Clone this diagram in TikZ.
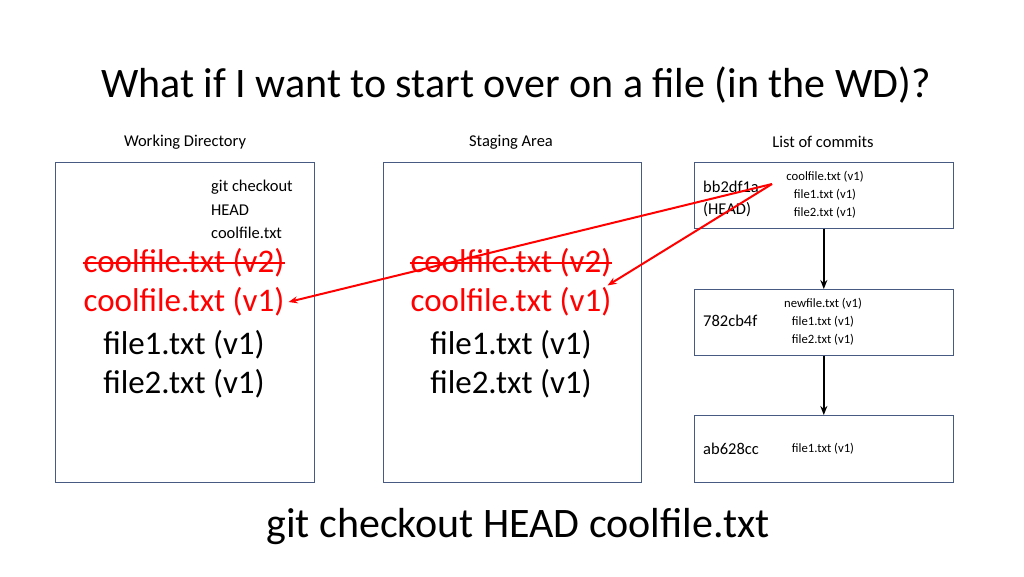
\documentclass[tikz,border=0pt]{standalone}
\usepackage{fontspec}
\setmainfont{Carlito}
\usetikzlibrary{arrows.meta}
\definecolor{gred}{RGB}{255,0,0}
\definecolor{bx}{RGB}{70,90,130}
\begin{document}
\begin{tikzpicture}[x=1pt,y=-1pt,
  box/.style={draw=bx, line width=0.6pt},
  big/.style={font=\fontsize{33}{35}\selectfont, inner sep=0pt},
  lbl/.style={font=\fontsize{16.5}{18}\selectfont, inner sep=0pt},
  sm/.style={font=\fontsize{12.7}{14}\selectfont, inner sep=0pt},
  ra/.style={draw=gred, line width=2pt, -{Stealth[length=9pt,width=7pt]}},
  ba/.style={draw=black, line width=2pt, -{Stealth[length=9pt,width=7pt]}}]
\useasboundingbox (0,0) rectangle (1024,576);
\node[font=\fontsize{42}{45}\selectfont] (title) at (516,85) {What if I want to start over on a file (in the WD)?};
\node[lbl] (lwd) at (185,142) {Working Directory};
\node[lbl] (lsa) at (511,142) {Staging Area};
\node[lbl] (lc) at (823,142) {List of commits};
\draw[box] (55,162) rectangle (314,482);
\draw[box] (383,162) rectangle (641,482);
\node[box, minimum width=259pt, minimum height=66pt, anchor=north west] (c1) at (694,162) {};
\node[box, minimum width=259pt, minimum height=66pt, anchor=north west] (c2) at (694,289) {};
\node[box, minimum width=259pt, minimum height=67pt, anchor=north west] (c3) at (694,415) {};
\node[lbl, anchor=west] (g1) at (211,187) {git checkout};
\node[lbl, anchor=west] (g2) at (211,210) {HEAD};
\node[lbl, anchor=west] (g3) at (211,233) {coolfile.txt};
\node[big, text=gred] (w2) at (184,263) {coolfile.txt (v2)};
\draw[gred, line width=1.5pt] (w2.west) -- (w2.east);
\node[big, text=gred] (w1) at (184,302) {coolfile.txt (v1)};
\node[big] (wf1) at (184,345) {file1.txt (v1)};
\node[big] (wf2) at (184,384) {file2.txt (v1)};
\node[big, text=gred] (s2) at (511,263) {coolfile.txt (v2)};
\draw[gred, line width=1.5pt] (s2.west) -- (s2.east);
\node[big, text=gred] (s1) at (511,302) {coolfile.txt (v1)};
\node[big] (sf1) at (511,345) {file1.txt (v1)};
\node[big] (sf2) at (511,384) {file2.txt (v1)};
\node[lbl, anchor=west] (h1) at (703,187) {bb2df1a};
\node[lbl, anchor=west] (h2) at (703,210) {(HEAD)};
\node[sm] (a1) at (825,177) {coolfile.txt (v1)};
\node[sm] (a2) at (825,195) {file1.txt (v1)};
\node[sm] (a3) at (825,213) {file2.txt (v1)};
\node[lbl, anchor=west] (h3) at (703,321) {782cb4f};
\node[sm] (b1) at (823,304) {newfile.txt (v1)};
\node[sm] (b2) at (823,322) {file1.txt (v1)};
\node[sm] (b3) at (823,340) {file2.txt (v1)};
\node[lbl, anchor=west] (h4) at (703,449) {ab628cc};
\node[sm] (d1) at (823,449) {file1.txt (v1)};
\coordinate (src) at (772,184);
\draw[ra] (src) -- ([xshift=4pt]w1.east);
\draw[ra] (src) -- ([xshift=-4pt,yshift=2pt]s1.north east);
\draw[ba] (c1.south) -- (c2.north);
\draw[ba] (c2.south) -- (c3.north);
\node[font=\fontsize{42}{45}\selectfont] (cmd) at (518,527) {git checkout HEAD coolfile.txt};
\end{tikzpicture}
\end{document}
